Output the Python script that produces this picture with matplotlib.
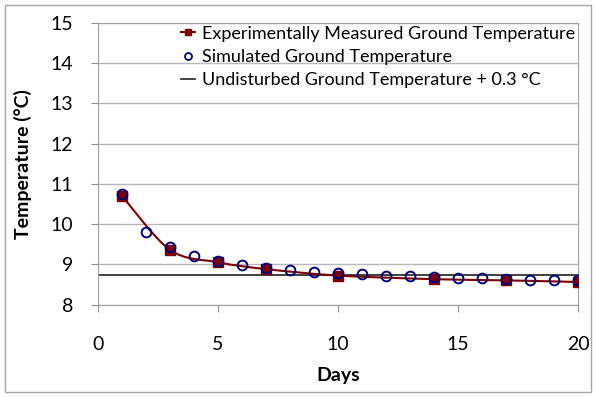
import matplotlib.pyplot as plt
from matplotlib.path import Path
from matplotlib.patches import PathPatch, Rectangle
from matplotlib.lines import Line2D

plt.rcParams['font.family'] = ['Lato', 'DejaVu Sans']

# measured and simulated ground temperatures (°C)
meas_days = [1, 3, 5, 7, 10, 14, 17, 20]
meas_temp = [10.70, 9.36, 9.05, 8.88, 8.72, 8.63, 8.60, 8.56]

sim_days = list(range(1, 21))
sim_temp = [10.75, 9.81, 9.42, 9.21, 9.09, 8.98, 8.91, 8.85, 8.81, 8.78,
            8.75, 8.72, 8.71, 8.69, 8.67, 8.66, 8.64, 8.61, 8.60, 8.60]

undisturbed = 8.73

red = '#800000'
blue = '#000080'
grid_gray = '#b8b8b8'


def smooth_path(xs, ys):
    # Excel-style smoothed line: cubic bezier through the points
    pts = list(zip(xs, ys))
    verts = [pts[0]]
    codes = [Path.MOVETO]
    n = len(pts)
    for i in range(n - 1):
        p0 = pts[i - 1] if i > 0 else pts[i]
        p1 = pts[i]
        p2 = pts[i + 1]
        p3 = pts[i + 2] if i + 2 < n else pts[i + 1]
        c1 = (p1[0] + (p2[0] - p0[0]) / 6, p1[1] + (p2[1] - p0[1]) / 6)
        c2 = (p2[0] - (p3[0] - p1[0]) / 6, p2[1] - (p3[1] - p1[1]) / 6)
        verts += [c1, c2, p2]
        codes += [Path.CURVE4] * 3
    return Path(verts, codes)


fig = plt.figure(figsize=(5.96, 3.97), dpi=100)
ax = fig.add_axes([98 / 596, 1 - 304.5 / 397, 480 / 596, 281.5 / 397])

# outer chart border
fig.patches.append(Rectangle((5 / 596, 5 / 397), 586 / 596, 387 / 397,
                             transform=fig.transFigure, fill=False,
                             edgecolor='#a6a6a6', linewidth=1))

ax.axhline(undisturbed, color='#202020', linewidth=1.2, zorder=2)
ax.add_patch(PathPatch(smooth_path(meas_days, meas_temp), fill=False,
                       edgecolor=red, linewidth=1.5, zorder=3))
ax.plot(meas_days, meas_temp, 's', color=red, markersize=7, zorder=4)
ax.plot(sim_days, sim_temp, 'o', markerfacecolor='none', markeredgecolor=blue,
        markeredgewidth=1.4, markersize=7, zorder=5)

ax.set_xlim(0, 20)
ax.set_ylim(8, 15)
ax.set_xticks(range(0, 21, 5))
ax.set_yticks(range(8, 16))
ax.yaxis.grid(True, color=grid_gray, linewidth=1)
ax.set_axisbelow(True)
for s in ax.spines.values():
    s.set_color('#a0a0a0')
ax.tick_params(axis='both', direction='out', length=5, color='#909090',
               labelsize=14)
ax.tick_params(axis='y', pad=13)
ax.tick_params(axis='x', pad=18)

ax.set_xlabel('Days', fontsize=14, fontweight='bold', labelpad=10)
ax.set_ylabel('Temperature (°C)', fontsize=14, fontweight='bold', labelpad=13)

handles = [
    Line2D([], [], color=red, marker='s', markersize=5, linewidth=1.5),
    Line2D([], [], linestyle='none', marker='o', markerfacecolor='none',
           markeredgecolor=blue, markeredgewidth=1.3, markersize=5),
    Line2D([], [], color='#202020', linewidth=1.2),
]
labels = ['Experimentally Measured Ground Temperature',
          'Simulated Ground Temperature',
          'Undisturbed Ground Temperature + 0.3 °C']
ax.legend(handles, labels, loc='upper left', bbox_to_anchor=(0.173, 0.99),
          frameon=False, fontsize=13, handlelength=0.75, handletextpad=0.4,
          labelspacing=0.4, borderpad=0, borderaxespad=0)

fig.savefig('out.png', dpi=100)
